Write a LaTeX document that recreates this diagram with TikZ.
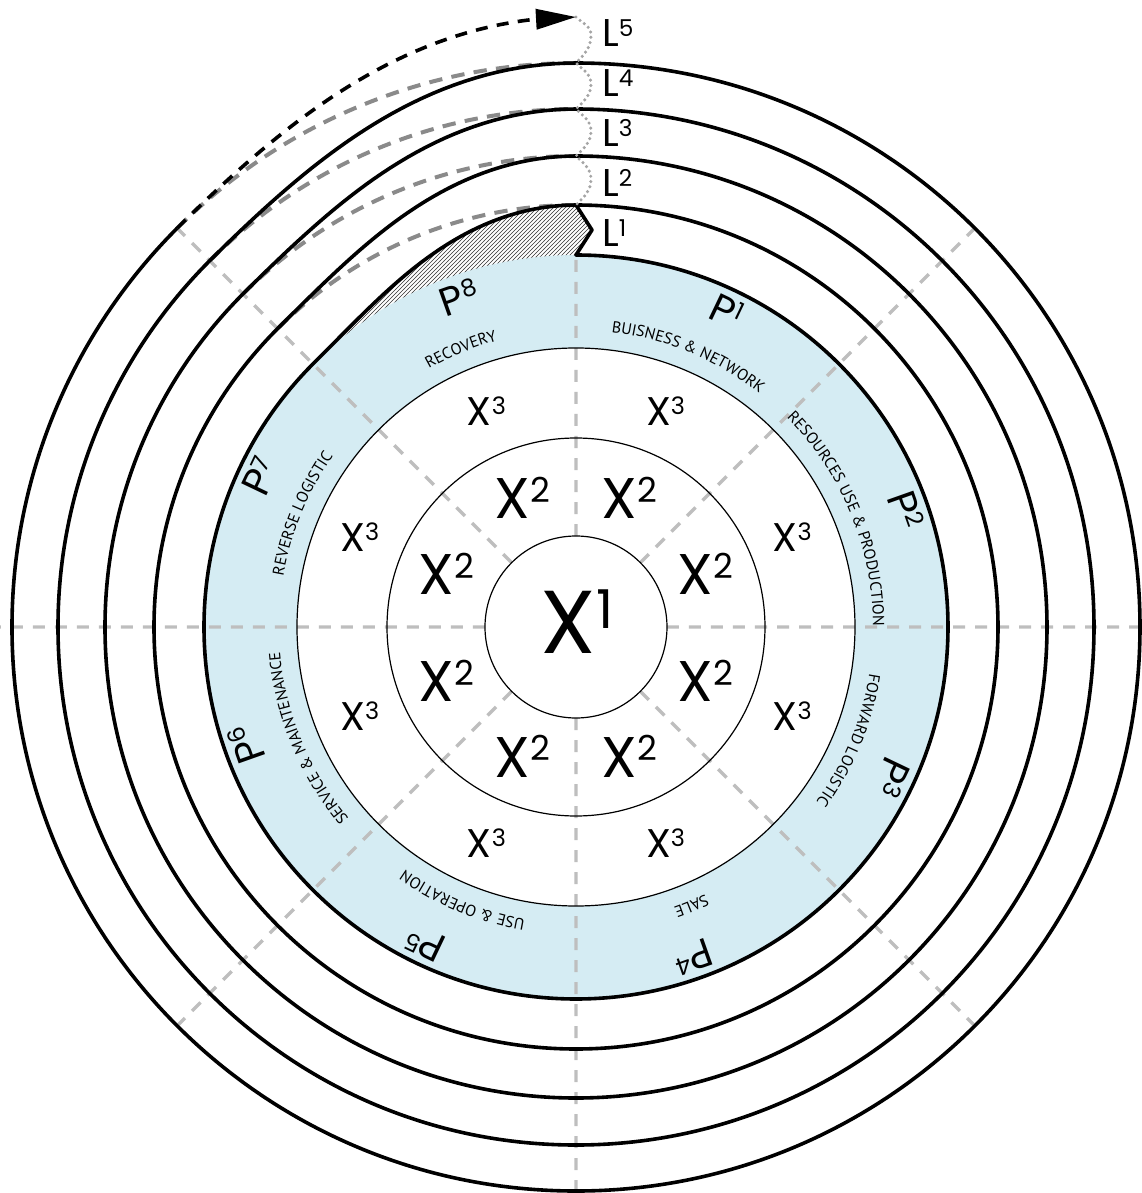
\documentclass[tikz,border=0pt]{standalone}
\usepackage{fontspec}
\usepackage{graphicx}
\usepackage{tikz}
\usetikzlibrary{arrows.meta,decorations.text,patterns}

\newfontfamily\geofont{Poppins}
\newfontfamily\capsfont{PT Sans}
\newcommand{\arcfont}{\capsfont\fontsize{12}{14}\selectfont}
\newcommand{\hi}[1]{\raisebox{0.28em}{\scalebox{0.6}{#1}}}
\definecolor{ringblue}{RGB}{213,236,243}
\definecolor{guidegray}{RGB}{190,190,190}
\definecolor{loopgray}{RGB}{138,138,138}
\definecolor{dotgray}{RGB}{165,165,165}

\begin{document}
\begin{tikzpicture}[x=0.75pt,y=0.75pt,
  guide/.style={draw=guidegray,line width=2.5pt,dash pattern=on 9pt off 7.5pt},
  ringline/.style={draw=black,line width=0.9pt},
  loopline/.style={draw=black,line width=2.7pt,line join=round},
  closeline/.style={draw=loopgray,line width=3pt,dash pattern=on 10pt off 7pt},
  nextloop/.style={draw=black,line width=2.7pt,dash pattern=on 9pt off 7pt},
  waveline/.style={draw=dotgray,line width=2.6pt,line cap=round,dash pattern=on 0pt off 4pt},
  coretext/.style={font=\geofont\fontsize{67}{67}\selectfont,inner sep=0pt},
  midtext/.style={font=\geofont\fontsize{43}{43}\selectfont,inner sep=0pt},
  outtext/.style={font=\geofont\fontsize{30}{30}\selectfont,inner sep=0pt},
  phasetext/.style={font=\geofont\fontsize{30}{30}\selectfont,inner sep=0pt},
  looptext/.style={font=\geofont\fontsize{29}{29}\selectfont,inner sep=0pt,anchor=base west},
  arctext/.style={decorate,decoration={text along path,text align=center,text={|\arcfont|#1}}}]
\useasboundingbox (-576,-566) rectangle (566,627);
\fill[ringblue] (0,0) circle[radius=372];
\fill[pattern=north east lines,pattern color=black!80] plot[domain=135:90,samples=40] (\x:{372+50*(1-cos(4*(135-\x)))/2})
  -- ++(16,-25) -- (90:372) arc[start angle=90,end angle=135,radius=372] -- cycle;
\fill[white] (0,0) circle[radius=279];
\draw[guide] (0:91) -- (0:566) (45:91) -- (45:562) (90:91) -- (90:372) (135:91) -- (135:562)
  (180:91) -- (180:576) (225:91) -- (225:562) (270:91) -- (270:566) (315:91) -- (315:562);
\draw[ringline] (0,0) circle[radius=91] (0,0) circle[radius=189] (0,0) circle[radius=279];
\draw[closeline] (135:422) arc[start angle=135,end angle=90,radius=422];
\draw[closeline] (135:471) arc[start angle=135,end angle=90,radius=471];
\draw[closeline] (135:518) arc[start angle=135,end angle=90,radius=518];
\draw[closeline] (135:564) arc[start angle=135,end angle=90,radius=564];
\draw[loopline] (90:422) -- ++(16,-25) -- (90:372)
  arc[start angle=90,end angle=-225,radius=372]
  -- plot[domain=135:90,samples=40] (\x:{372+50*(1-cos(4*(135-\x)))/2})
  arc[start angle=90,end angle=-225,radius=422]
  -- plot[domain=135:90,samples=40] (\x:{422+49*(1-cos(4*(135-\x)))/2})
  arc[start angle=90,end angle=-225,radius=471]
  -- plot[domain=135:90,samples=40] (\x:{471+47*(1-cos(4*(135-\x)))/2})
  arc[start angle=90,end angle=-225,radius=518]
  -- plot[domain=135:90,samples=40] (\x:{518+46*(1-cos(4*(135-\x)))/2})
  arc[start angle=90,end angle=-225,radius=564] coordinate (tail);
\coordinate (head) at (90:610);
\draw[waveline] (head) to[out=-45,in=90] (15,592) to[out=-90,in=45] (90:564)
  to[out=-45,in=90] (15,543) to[out=-90,in=45] (90:518)
  to[out=-45,in=90] (15,496) to[out=-90,in=45] (90:471)
  to[out=-45,in=90] (15,448) to[out=-90,in=45] (90:422);
\draw[nextloop,-{Triangle[length=30pt,width=15pt]}] (tail)
  -- plot[domain=135:94,samples=40] (\x:{564+46*(1-cos(4*(135-\x)))/2}) -- (head);
\node[looptext] (l1) at (26,380) {L\hi{1}};
\node[looptext] (l2) at (26,430) {L\hi{2}};
\node[looptext] (l3) at (26,480) {L\hi{3}};
\node[looptext] (l4) at (26,530) {L\hi{4}};
\node[looptext] (l5) at (26,580) {L\hi{5}};
\node[coretext] (x1) at (1,5) {X\hi{1}};
\node[midtext] (x2a) at (67.5:140) {X\hi{2}};
\node[midtext] (x2b) at (22.5:140) {X\hi{2}};
\node[midtext] (x2c) at (-22.5:140) {X\hi{2}};
\node[midtext] (x2d) at (-67.5:140) {X\hi{2}};
\node[midtext] (x2e) at (-112.5:140) {X\hi{2}};
\node[midtext] (x2f) at (-157.5:140) {X\hi{2}};
\node[midtext] (x2g) at (157.5:140) {X\hi{2}};
\node[midtext] (x2h) at (112.5:140) {X\hi{2}};
\node[outtext] (x3a) at (67.5:234) {X\hi{3}};
\node[outtext] (x3b) at (22.5:234) {X\hi{3}};
\node[outtext] (x3c) at (-22.5:234) {X\hi{3}};
\node[outtext] (x3d) at (-67.5:234) {X\hi{3}};
\node[outtext] (x3e) at (-112.5:234) {X\hi{3}};
\node[outtext] (x3f) at (-157.5:234) {X\hi{3}};
\node[outtext] (x3g) at (157.5:234) {X\hi{3}};
\node[outtext] (x3h) at (112.5:234) {X\hi{3}};
\node[phasetext,rotate=-25.5] (p1) at (64.5:350) {P\hi{1}};
\node[phasetext,rotate=-70.5] (p2) at (19.5:350) {P\hi{2}};
\node[phasetext,rotate=-115.5] (p3) at (-25.5:350) {P\hi{3}};
\node[phasetext,rotate=-160.5] (p4) at (-70.5:350) {P\hi{4}};
\node[phasetext,rotate=-205.5] (p5) at (-115.5:350) {P\hi{5}};
\node[phasetext,rotate=-250.5] (p6) at (-160.5:350) {P\hi{6}};
\node[phasetext,rotate=64.5] (p7) at (154.5:350) {P\hi{7}};
\node[phasetext,rotate=19.5] (p8) at (109.5:350) {P\hi{8}};
\path[arctext={BUISNESS {\&} NETWORK}] (112.5:297) arc[start angle=112.5,end angle=22.5,radius=297];
\path[arctext={RESOURCES USE {\&} PRODUCTION}] (67.5:297) arc[start angle=67.5,end angle=-22.5,radius=297];
\path[arctext={FORWARD LOGISTIC}] (22.5:297) arc[start angle=22.5,end angle=-67.5,radius=297];
\path[arctext={SALE}] (-22.5:297) arc[start angle=-22.5,end angle=-112.5,radius=297];
\path[arctext={USE {\&} OPERATION}] (-67.5:297) arc[start angle=-67.5,end angle=-157.5,radius=297];
\path[arctext={SERVICE {\&} MAINTENANCE}] (-112.5:297) arc[start angle=-112.5,end angle=-202.5,radius=297];
\path[arctext={REVERSE LOGISTIC}] (202.5:297) arc[start angle=202.5,end angle=112.5,radius=297];
\path[arctext={RECOVERY}] (157.5:297) arc[start angle=157.5,end angle=67.5,radius=297];
\end{tikzpicture}
\end{document}
